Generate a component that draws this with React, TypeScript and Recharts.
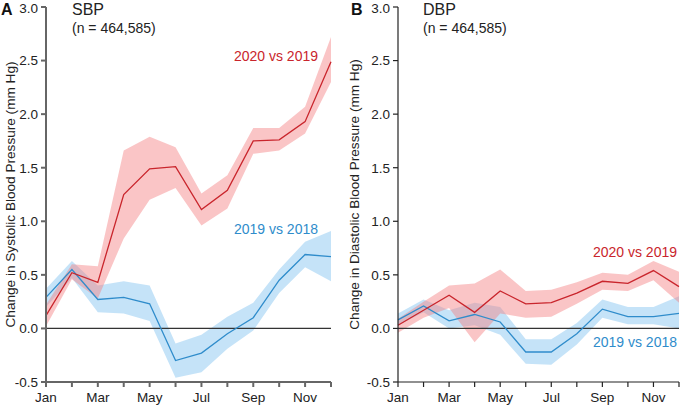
import React from "react";
import { ComposedChart, Line, Area, XAxis, YAxis, ReferenceLine } from "recharts";

const months = ["Jan", "Feb", "Mar", "Apr", "May", "Jun", "Jul", "Aug", "Sep", "Oct", "Nov", "Dec"];
const yTicks = [-0.5, 0, 0.5, 1.0, 1.5, 2.0, 2.5, 3.0];

// SBP, 2020 vs 2019
const sbp2020 = [0.12, 0.52, 0.43, 1.25, 1.49, 1.51, 1.11, 1.29, 1.75, 1.76, 1.93, 2.49];
const sbp2020Lo = [0.02, 0.46, 0.28, 0.84, 1.2, 1.31, 0.96, 1.12, 1.63, 1.66, 1.82, 2.3];
const sbp2020Hi = [0.22, 0.6, 0.58, 1.66, 1.79, 1.69, 1.26, 1.43, 1.87, 1.87, 2.07, 2.72];
// SBP, 2019 vs 2018
const sbp2019 = [0.29, 0.55, 0.27, 0.29, 0.23, -0.3, -0.23, -0.05, 0.1, 0.45, 0.69, 0.67];
const sbp2019Lo = [0.2, 0.47, 0.15, 0.14, 0.07, -0.46, -0.41, -0.19, -0.02, 0.33, 0.57, 0.44];
const sbp2019Hi = [0.37, 0.63, 0.4, 0.44, 0.4, -0.14, -0.06, 0.11, 0.24, 0.55, 0.81, 0.91];
// DBP, 2020 vs 2019
const dbp2020 = [0.03, 0.17, 0.31, 0.15, 0.35, 0.23, 0.24, 0.33, 0.44, 0.42, 0.54, 0.39];
const dbp2020Lo = [-0.04, 0.1, 0.19, -0.13, 0.14, 0.1, 0.11, 0.23, 0.36, 0.35, 0.45, 0.24];
const dbp2020Hi = [0.09, 0.25, 0.4, 0.42, 0.55, 0.35, 0.36, 0.43, 0.52, 0.5, 0.63, 0.53];
// DBP, 2019 vs 2018
const dbp2019 = [0.08, 0.21, 0.07, 0.13, 0.06, -0.22, -0.22, -0.05, 0.18, 0.11, 0.11, 0.14];
const dbp2019Lo = [0.03, 0.15, 0.0, 0.03, -0.06, -0.33, -0.34, -0.15, 0.1, 0.04, 0.04, 0.0];
const dbp2019Hi = [0.14, 0.27, 0.17, 0.24, 0.2, -0.1, -0.1, 0.05, 0.27, 0.2, 0.2, 0.3];

const RED = "#c9252c";
const BLUE = "#2f8ccb";
const FONT = "'Liberation Sans', Arial, sans-serif";

function build(a: number[], aLo: number[], aHi: number[], b: number[], bLo: number[], bHi: number[]) {
  return months.map((m, i) => ({
    i,
    name: m,
    red: a[i],
    redBand: [aLo[i], aHi[i]],
    blue: b[i],
    blueBand: [bLo[i], bHi[i]],
  }));
}

const sbpData = build(sbp2020, sbp2020Lo, sbp2020Hi, sbp2019, sbp2019Lo, sbp2019Hi);
const dbpData = build(dbp2020, dbp2020Lo, dbp2020Hi, dbp2019, dbp2019Lo, dbp2019Hi);

function Panel(props: {
  data: any[];
  left: number;
  width: number;
  yWidth: number;
  marginRight: number;
  axisColor: string;
  axisWidth: number;
}) {
  const { data, left, width, yWidth, marginRight, axisColor, axisWidth } = props;
  const tickStyle = { fill: "#222", fontSize: 13.5, fontFamily: FONT };
  return (
    <div style={{ position: "absolute", left, top: 0 }}>
      <ComposedChart
        width={width}
        height={407}
        data={data}
        margin={{ top: 7, right: marginRight, bottom: 0, left: 0 }}
      >
        <XAxis
          dataKey="i"
          type="number"
          domain={[0, 11]}
          ticks={months.map((_, i) => i)}
          tickFormatter={(v: number) => (v % 2 === 0 ? months[v] : "")}
          interval={0}
          height={25}
          tickSize={5}
          tickMargin={5}
          tick={tickStyle}
          axisLine={{ stroke: axisColor, strokeWidth: axisWidth }}
          tickLine={{ stroke: axisColor, strokeWidth: axisWidth }}
        />
        <YAxis
          type="number"
          domain={[-0.5, 3]}
          ticks={yTicks}
          tickFormatter={(v: number) => v.toFixed(1)}
          width={yWidth}
          tickSize={5}
          tickMargin={3}
          tick={tickStyle}
          axisLine={{ stroke: axisColor, strokeWidth: axisWidth }}
          tickLine={{ stroke: axisColor, strokeWidth: axisWidth }}
        />
        <Area
          dataKey="blueBand"
          stroke="none"
          fill="#7fc0f0"
          fillOpacity={0.45}
          isAnimationActive={false}
        />
        <Area
          dataKey="redBand"
          stroke="none"
          fill="#f47f80"
          fillOpacity={0.45}
          isAnimationActive={false}
        />
        <ReferenceLine y={0} stroke="#333" strokeWidth={1.3} />
        <Line dataKey="blue" stroke={BLUE} strokeWidth={1.3} dot={false} isAnimationActive={false} />
        <Line dataKey="red" stroke={RED} strokeWidth={1.3} dot={false} isAnimationActive={false} />
      </ComposedChart>
    </div>
  );
}

export default function App() {
  return (
    <div style={{ position: "fixed", left: 0, top: 0, width: 685, height: 407, background: "#fff" }}>
      <Panel data={sbpData} left={0} width={342} yWidth={46} marginRight={11} axisColor="#666" axisWidth={2} />
      <Panel data={dbpData} left={343} width={342} yWidth={55} marginRight={6} axisColor="#222" axisWidth={1.2} />
      <svg
        width={685}
        height={407}
        style={{ position: "absolute", left: 0, top: 0, pointerEvents: "none" }}
        fontFamily={FONT}
      >
        <text x={1} y={15} fontSize={16} fontWeight="bold" fill="#111">A</text>
        <text x={351} y={15} fontSize={16} fontWeight="bold" fill="#111">B</text>
        <text x={72} y={15} fontSize={16} fill="#222">SBP</text>
        <text x={72} y={33} fontSize={14} fill="#222">(n = 464,585)</text>
        <text x={423} y={15} fontSize={16} fill="#222">DBP</text>
        <text x={423} y={33} fontSize={14} fill="#222">(n = 464,585)</text>
        <text
          x={0}
          y={0}
          transform="translate(15,194.5) rotate(-90)"
          textAnchor="middle"
          fontSize={13.6}
          fill="#222"
        >
          Change in Systolic Blood Pressure (mm Hg)
        </text>
        <text
          x={0}
          y={0}
          transform="translate(359,194.5) rotate(-90)"
          textAnchor="middle"
          fontSize={13.6}
          fill="#222"
        >
          Change in Diastolic Blood Pressure (mm Hg)
        </text>
        <text x={318} y={61} textAnchor="end" fontSize={14} fill={RED}>2020 vs 2019</text>
        <text x={318} y={234} textAnchor="end" fontSize={14} fill={BLUE}>2019 vs 2018</text>
        <text x={677} y={257} textAnchor="end" fontSize={14} fill={RED}>2020 vs 2019</text>
        <text x={677} y={347} textAnchor="end" fontSize={14} fill={BLUE}>2019 vs 2018</text>
      </svg>
    </div>
  );
}
